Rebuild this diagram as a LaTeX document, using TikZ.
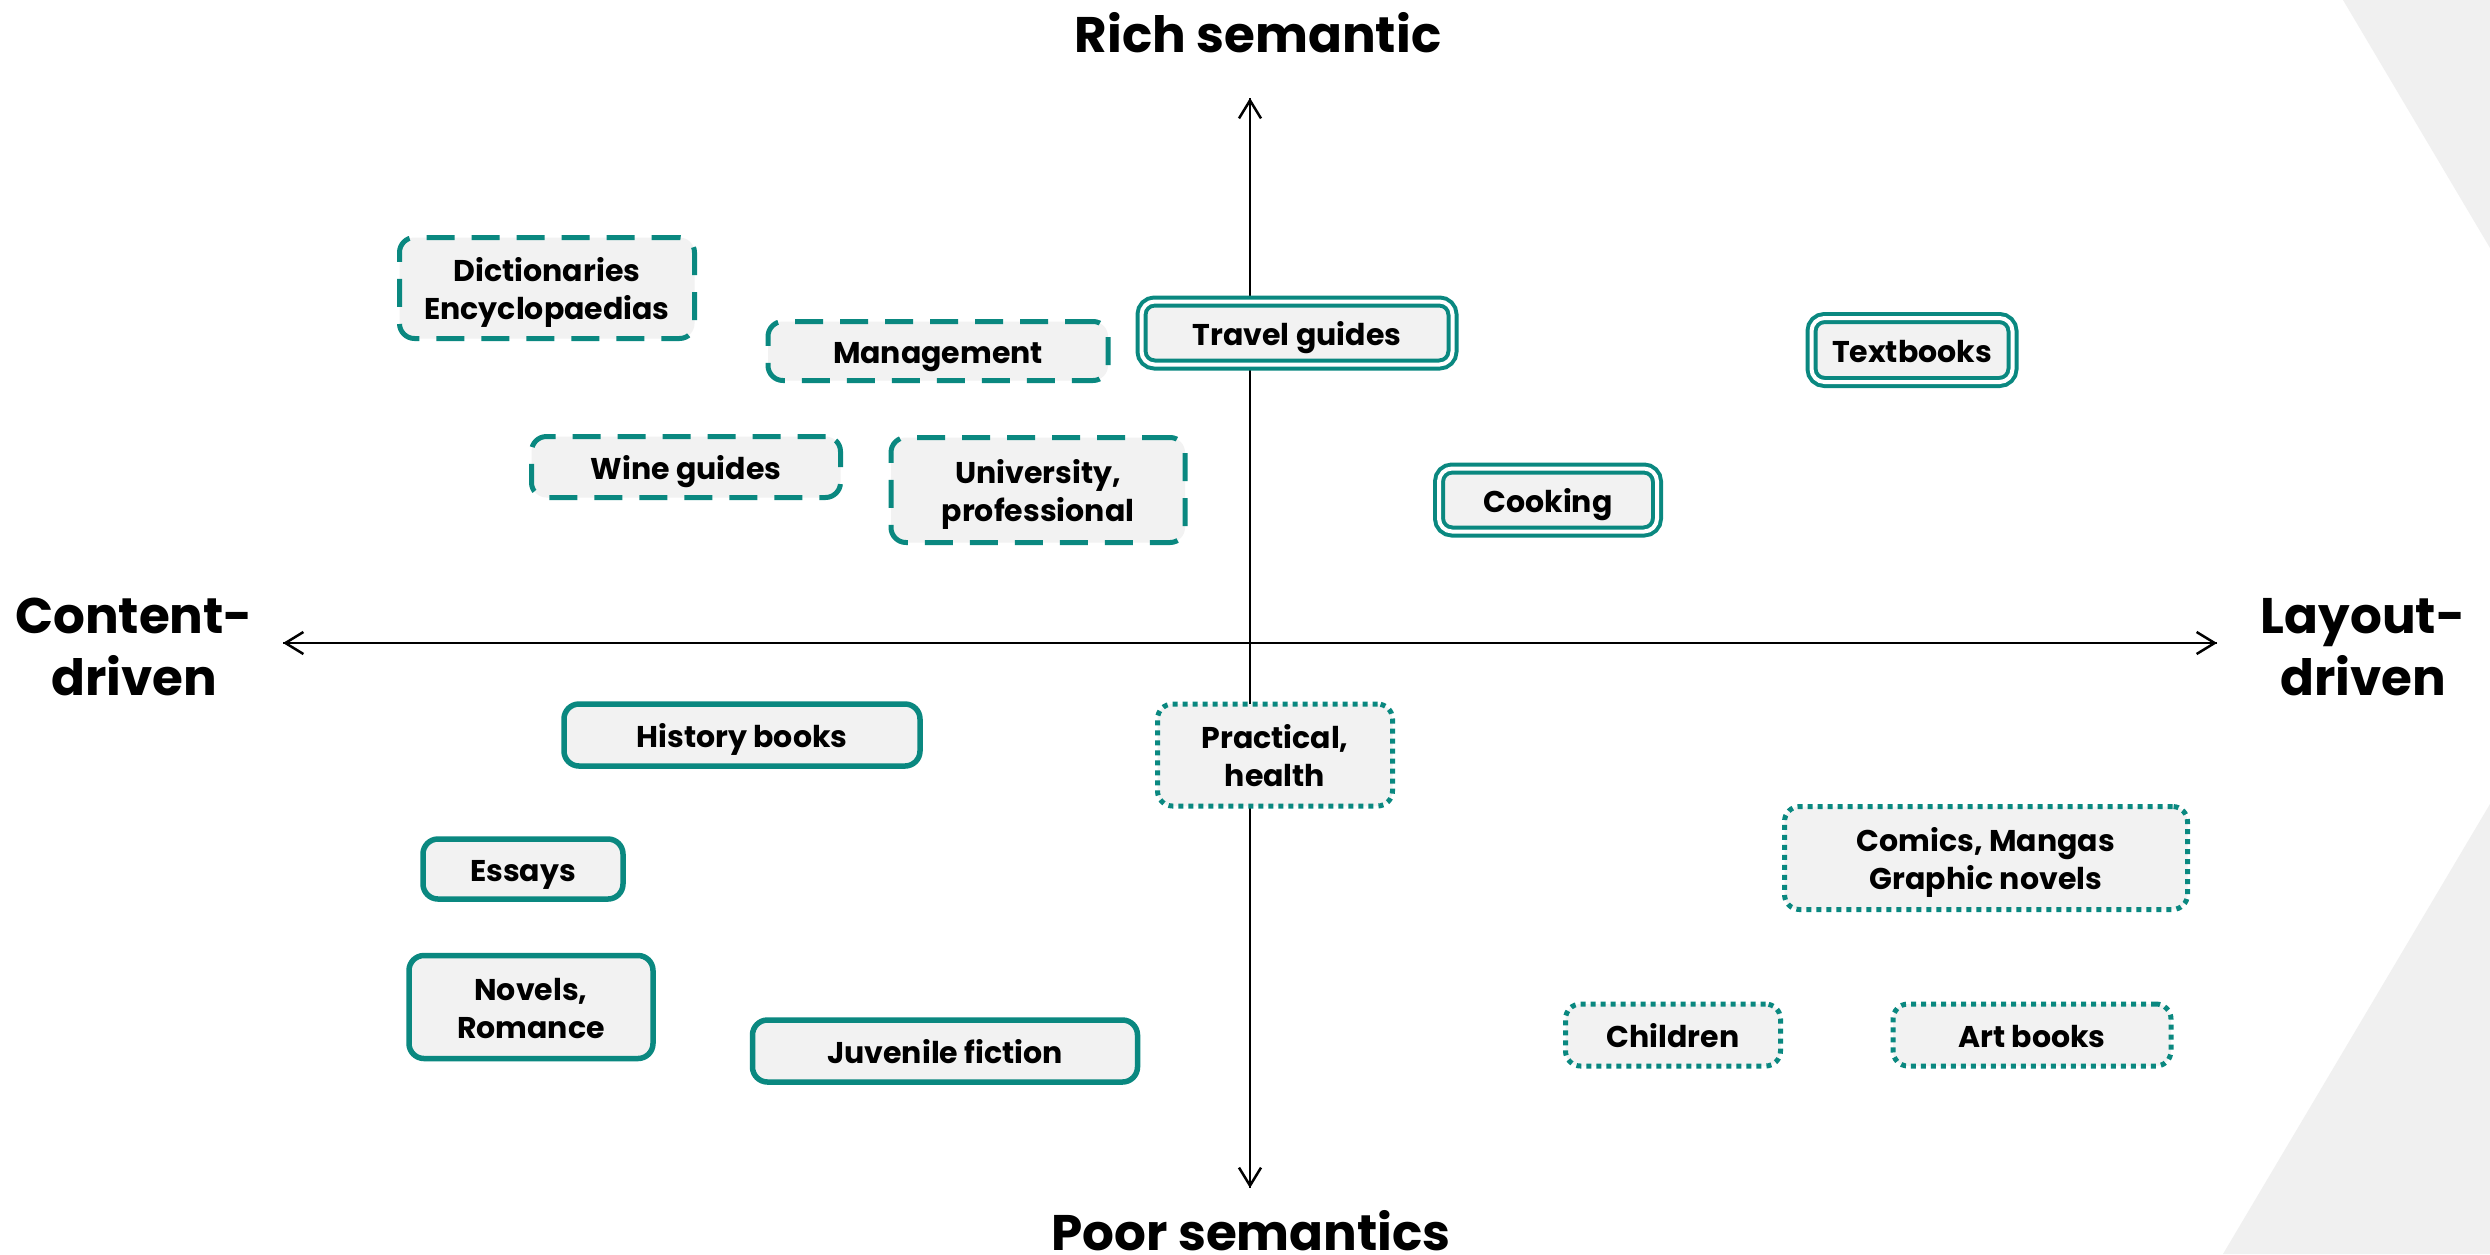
\documentclass[tikz,border=0pt]{standalone}
\usepackage{fontspec}
\setmainfont{Poppins}
\usetikzlibrary{arrows.meta}
\definecolor{tealc}{RGB}{10,136,128}
\definecolor{boxfill}{RGB}{242,242,242}
\definecolor{bggrey}{RGB}{240,240,240}
\begin{document}
\begin{tikzpicture}[x=1pt,y=-1pt,
  lbl/.style={font=\bfseries\fontsize{30}{38}\selectfont, align=center, inner sep=0pt, text=black, text height=28pt, text depth=3pt},
  two/.style={text height=66pt, text depth=3pt},
  boxbase/.style={lbl, fill=boxfill, rounded corners=15pt},
  solidbox/.style={boxbase, draw=tealc, line width=5.5pt},
  dashbox/.style={boxbase, draw=tealc, line width=5pt, dash pattern=on 28pt off 17pt},
  dotbox/.style={boxbase, draw=tealc, line width=5pt, dash pattern=on 5pt off 5pt},
  dblbox/.style={boxbase, draw=tealc, line width=4pt, double=white, double distance=4pt, rounded corners=13pt},
  axislbl/.style={font=\bfseries\fontsize{50}{62}\selectfont, align=center, inner sep=0pt},
  axis/.style={line width=2.5pt, -{Straight Barb[length=18pt,width=22pt,line width=2.5pt]}}
]
\useasboundingbox (0,0) rectangle (2490,1254);
\fill[white] (0,0) rectangle (2490,1254);
% background shapes
\fill[bggrey] (2343,0) -- (2490,0) -- (2490,248) -- cycle;
\fill[bggrey] (2490,804) -- (2490,1254) -- (2223,1254) -- cycle;

% axes
\coordinate (origin) at (1250,643);
\coordinate (top) at (1250,98);
\coordinate (bottom) at (1250,1188);
\coordinate (left) at (283,643);
\coordinate (right) at (2217,643);
\draw[axis] (bottom) -- (top);
\draw[axis] (top) -- (bottom);
\draw[axis] (right) -- (left);
\draw[axis] (left) -- (right);

% axis labels
\node[axislbl, anchor=base] (rich) at (1258,52) {Rich semantic};
\node[axislbl, anchor=base] (poor) at (1251,1250) {Poor semantics};
\node[axislbl, anchor=base] (content) at (134,695) {Content-\\driven};
\node[axislbl, anchor=base] (layout) at (2363,695) {Layout-\\driven};

% boxes
\node[dashbox, two, minimum width=295pt, minimum height=101pt] (dict) at (547,288) {Dictionaries\\Encyclopaedias};
\node[dashbox, minimum width=340pt, minimum height=59pt] (mgmt) at (938,351) {Management};
\node[dblbox, minimum width=311pt, minimum height=63pt] (travel) at (1297,333) {Travel guides};
\node[dblbox, minimum width=201pt, minimum height=64pt] (text) at (1912,350) {Textbooks};
\node[dashbox, minimum width=309pt, minimum height=61pt] (wine) at (686,467) {Wine guides};
\node[dashbox, two, minimum width=294pt, minimum height=105pt] (univ) at (1038,490) {University,\\professional};
\node[dblbox, minimum width=218pt, minimum height=63pt] (cook) at (1548,500) {Cooking};
\node[solidbox, minimum width=356pt, minimum height=62pt] (hist) at (742,735) {History books};
\node[dotbox, two, minimum width=235pt, minimum height=102pt] (prac) at (1275,755) {Practical,\\health};
\node[solidbox, minimum width=200pt, minimum height=60pt] (essay) at (523,869) {Essays};
\node[solidbox, two, minimum width=244pt, minimum height=103pt] (novel) at (531,1007) {Novels,\\Romance};
\node[solidbox, minimum width=385pt, minimum height=62pt] (juv) at (945,1051) {Juvenile fiction};
\node[dotbox, two, minimum width=403pt, minimum height=103pt] (comics) at (1986,858) {Comics, Mangas\\Graphic novels};
\node[dotbox, minimum width=215pt, minimum height=62pt] (child) at (1673,1035) {Children};
\node[dotbox, minimum width=278pt, minimum height=62pt] (art) at (2032,1035) {Art books};
\end{tikzpicture}
\end{document}
